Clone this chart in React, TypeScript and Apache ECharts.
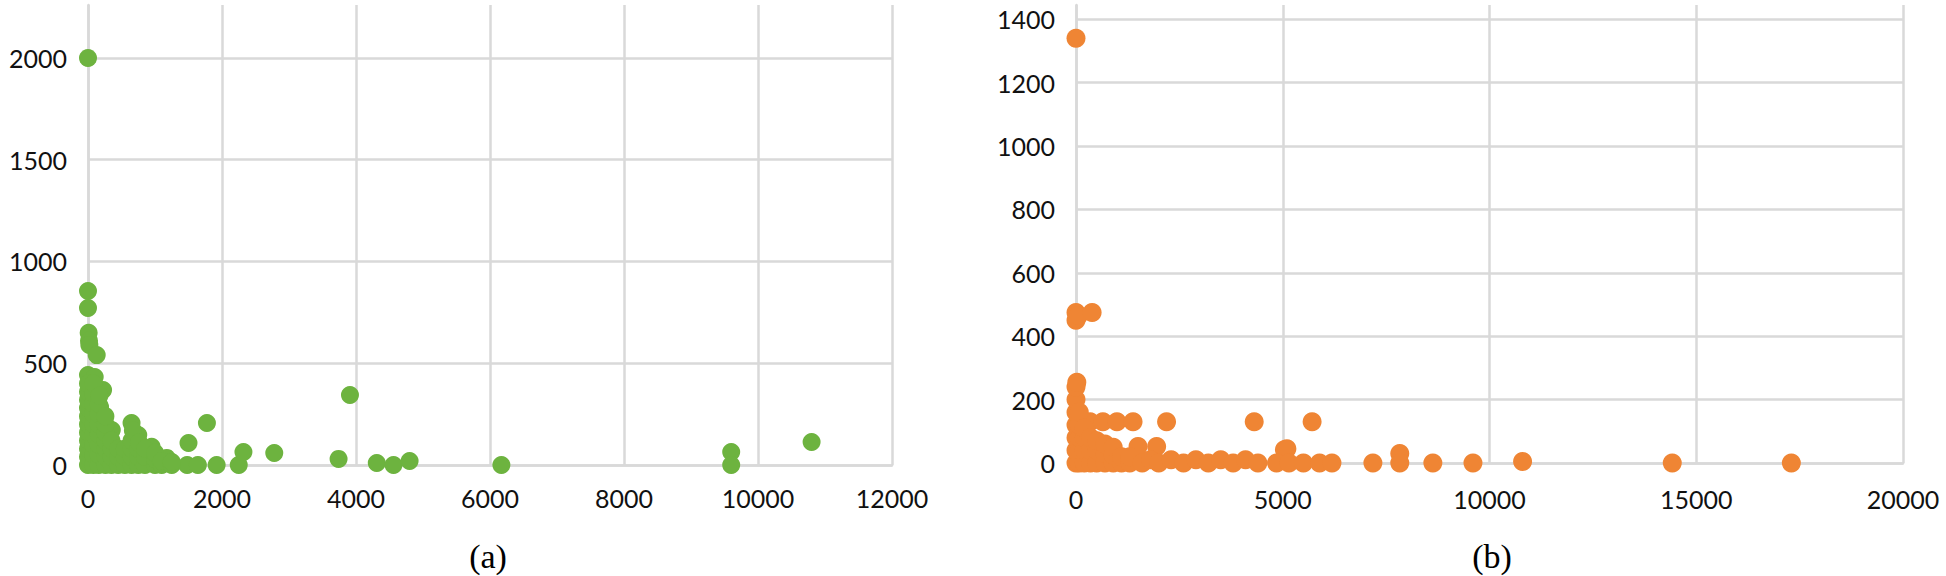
import React, { useEffect, useRef } from "react";
import * as echarts from "echarts";

// ---- Data: panel (a) green scatter [x, y] ----
const seriesA: number[][] = [
  [0, 2000], [0, 855], [0, 771], [10, 650], [15, 610], [20, 590], [130, 540],
  [0, 442], [100, 432], [225, 368], [180, 285], [355, 172], [650, 206], [750, 147],
  [950, 90], [1175, 35], [1500, 108], [1775, 206], [1480, 0], [1640, 0], [1920, 0],
  [2250, 0], [2320, 64], [2780, 59], [3740, 30], [3910, 344], [4310, 10], [4560, 0],
  [4800, 20], [6170, 0], [9600, 64], [9600, 0], [10800, 113],
  // dense cluster near the origin
  [0, 0], [0, 40], [0, 80], [0, 120], [0, 160], [0, 200], [0, 240], [0, 280], [0, 320], [0, 360], [0, 400],
  [80, 0], [80, 50], [80, 100], [80, 150], [80, 200], [80, 250], [80, 300], [80, 350], [80, 400],
  [160, 0], [160, 50], [160, 100], [160, 150], [160, 200], [160, 250], [160, 300], [170, 340],
  [260, 0], [260, 40], [260, 80], [260, 120], [260, 160], [260, 200], [260, 240],
  [350, 0], [350, 40], [350, 80], [350, 120],
  [450, 0], [450, 40], [450, 80],
  [550, 0], [550, 40], [550, 80],
  [650, 0], [650, 40], [650, 80], [650, 120], [670, 170],
  [750, 0], [750, 40], [750, 80], [760, 110],
  [850, 0], [850, 40], [850, 80],
  [1000, 0], [1000, 30], [1000, 60],
  [1100, 0], [1100, 20],
  [1250, 0], [1250, 15],
];

// ---- Data: panel (b) orange scatter [x, y] ----
const seriesB: number[][] = [
  [0, 1340], [0, 475], [0, 450], [60, 465], [390, 475],
  [340, 130], [650, 130], [990, 130], [1380, 130], [2190, 130], [4310, 130], [5710, 130],
  [1500, 52], [1950, 52], [5040, 42], [5100, 45],
  [4850, 0], [5150, 0], [5500, 0], [5890, 0], [6190, 0], [7180, 0], [7830, 30], [7830, 0],
  [8630, 0], [9600, 0], [10800, 5], [14420, 0], [17300, 0],
  // dense cluster near the origin
  [0, 0], [0, 40], [0, 80], [0, 120], [0, 160], [0, 200], [0, 240], [20, 255],
  [80, 0], [80, 40], [80, 80], [80, 120], [80, 160],
  [200, 0], [200, 40], [200, 80], [200, 110],
  [350, 0], [350, 40], [350, 80],
  [500, 0], [500, 40], [500, 70],
  [700, 0], [700, 30], [700, 60],
  [900, 0], [900, 25], [900, 50],
  [1100, 0], [1100, 20],
  [1300, 0], [1300, 20],
  [1600, 0], [1800, 10], [2000, 0], [2300, 10], [2600, 0], [2900, 10],
  [3200, 0], [3500, 10], [3800, 0], [4100, 10], [4400, 0],
];

// ---- Axis ticks ----
const xTicksA = { min: 0, max: 12000, interval: 2000 };
const yTicksA = { min: 0, max: 2260, interval: 500 };
const xTicksB = { min: 0, max: 20000, interval: 5000 };
const yTicksB = { min: 0, max: 1445, interval: 200 };

const captions = ["(a)", "(b)"];

const GRID_COLOR = "#d9d9d9";
const LABEL_FONT = { fontFamily: "Lato", fontSize: 25, color: "#111111" };

function valueAxis(gridIndex: number, t: { min: number; max: number; interval: number }, margin: number, isY: boolean) {
  return {
    type: "value",
    gridIndex,
    min: t.min,
    max: t.max,
    interval: t.interval,
    axisLine: { show: true, onZero: false, lineStyle: { color: GRID_COLOR, width: 2.5 } },
    axisTick: { show: false },
    axisLabel: {
      ...LABEL_FONT,
      margin,
      showMaxLabel: !isY,
      formatter: (v: number) => String(v),
    },
    splitLine: {
      show: true,
      showMaxLine: !isY || t.max % t.interval === 0,
      lineStyle: { color: GRID_COLOR, width: 2.5 },
    },
  };
}

export default function App() {
  const ref = useRef<HTMLDivElement>(null);
  useEffect(() => {
    if (!ref.current) return;
    const chart = echarts.init(ref.current, undefined, { renderer: "svg" });
    chart.setOption({
      animation: false,
      backgroundColor: "#ffffff",
      grid: [
        { left: 88, top: 5, width: 804, height: 460 },
        { left: 1076, top: 5, width: 827, height: 458 },
      ],
      xAxis: [valueAxis(0, xTicksA, 20, false), valueAxis(1, xTicksB, 23, false)],
      yAxis: [valueAxis(0, yTicksA, 21, true), valueAxis(1, yTicksB, 21, true)],
      series: [
        {
          type: "scatter",
          xAxisIndex: 0,
          yAxisIndex: 0,
          data: seriesA,
          symbolSize: 18,
          itemStyle: { color: "#6db33f", opacity: 1 },
        },
        {
          type: "scatter",
          xAxisIndex: 1,
          yAxisIndex: 1,
          data: seriesB,
          symbolSize: 19,
          itemStyle: { color: "#ef8534", opacity: 1 },
        },
      ],
      graphic: [
        {
          type: "text",
          x: 488,
          y: 556,
          style: {
            text: captions[0],
            fontFamily: "Liberation Serif",
            fontSize: 34,
            fill: "#000",
            textAlign: "center",
            textVerticalAlign: "middle",
          },
        },
        {
          type: "text",
          x: 1492,
          y: 556,
          style: {
            text: captions[1],
            fontFamily: "Liberation Serif",
            fontSize: 34,
            fill: "#000",
            textAlign: "center",
            textVerticalAlign: "middle",
          },
        },
      ],
    });
    return () => chart.dispose();
  }, []);
  return (
    <div
      ref={ref}
      style={{ position: "absolute", left: 0, top: 0, width: 1946, height: 576 }}
    />
  );
}
